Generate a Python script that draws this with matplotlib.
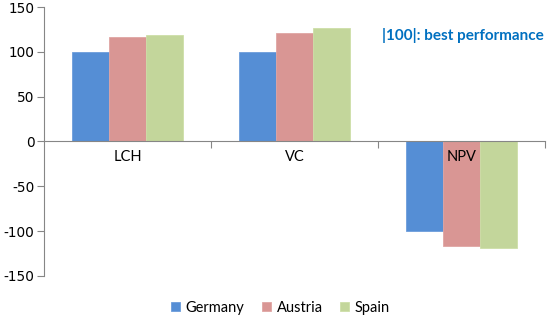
import numpy as np
import matplotlib.pyplot as plt

plt.rcParams["axes.unicode_minus"] = False

categories = ["LCH", "VC", "NPV"]
countries = ["Germany", "Austria", "Spain"]
germany = [100, 100, -100]
austria = [116, 121.5, -116.5]
spain = [118.5, 127, -119]
colors = ["#558ed5", "#d99694", "#c3d69b"]
edges = ["#6d9ddb", "#e0a5a3", "#cddfa8"]

fig = plt.figure(figsize=(5.5, 3.19), dpi=100)
ax = fig.add_axes([0.08, 0.135, 0.911, 0.843])

x = np.arange(len(categories))
w = 0.22
for i, (vals, name) in enumerate(zip([germany, austria, spain], countries)):
    ax.bar(x + (i - 1) * w, vals, w, color=colors[i], edgecolor=edges[i],
           linewidth=0.6, label=name, zorder=1)

ax.set_xlim(-0.5, 2.5)
ax.set_ylim(-150, 150)
ax.set_yticks([-150, -100, -50, 0, 50, 100, 150])
ax.tick_params(axis="y", direction="out", length=5, color="#868686",
               labelsize=9.8, pad=2)

ax.spines["top"].set_visible(False)
ax.spines["right"].set_visible(False)
ax.spines["left"].set_color("#868686")
ax.spines["bottom"].set_color("#868686")
ax.spines["bottom"].set_position(("data", 0))

# category boundaries get tick marks, centres carry the labels
ax.set_xticks([0.5, 1.5, 2.5])
ax.set_xticklabels([])
ax.tick_params(axis="x", which="major", direction="out", length=5, color="#868686")
ax.set_xticks(x, minor=True)
ax.set_xticklabels(categories, minor=True, fontfamily="Lato", fontsize=10.5)
ax.tick_params(axis="x", which="minor", length=0, pad=6)

ax.text(0.997, 0.895, "|100|: best performance", transform=ax.transAxes,
        ha="right", va="center", color="#0070c0", fontweight="bold",
        fontfamily="Lato", fontsize=11)

fig.legend(loc="center", bbox_to_anchor=(0.51, 0.035), ncol=3, frameon=False,
           handlelength=0.6, handleheight=0.6, handletextpad=0.4,
           columnspacing=1.2, prop={"family": "Lato", "size": 10.5})

fig.savefig("out.png", dpi=100)
